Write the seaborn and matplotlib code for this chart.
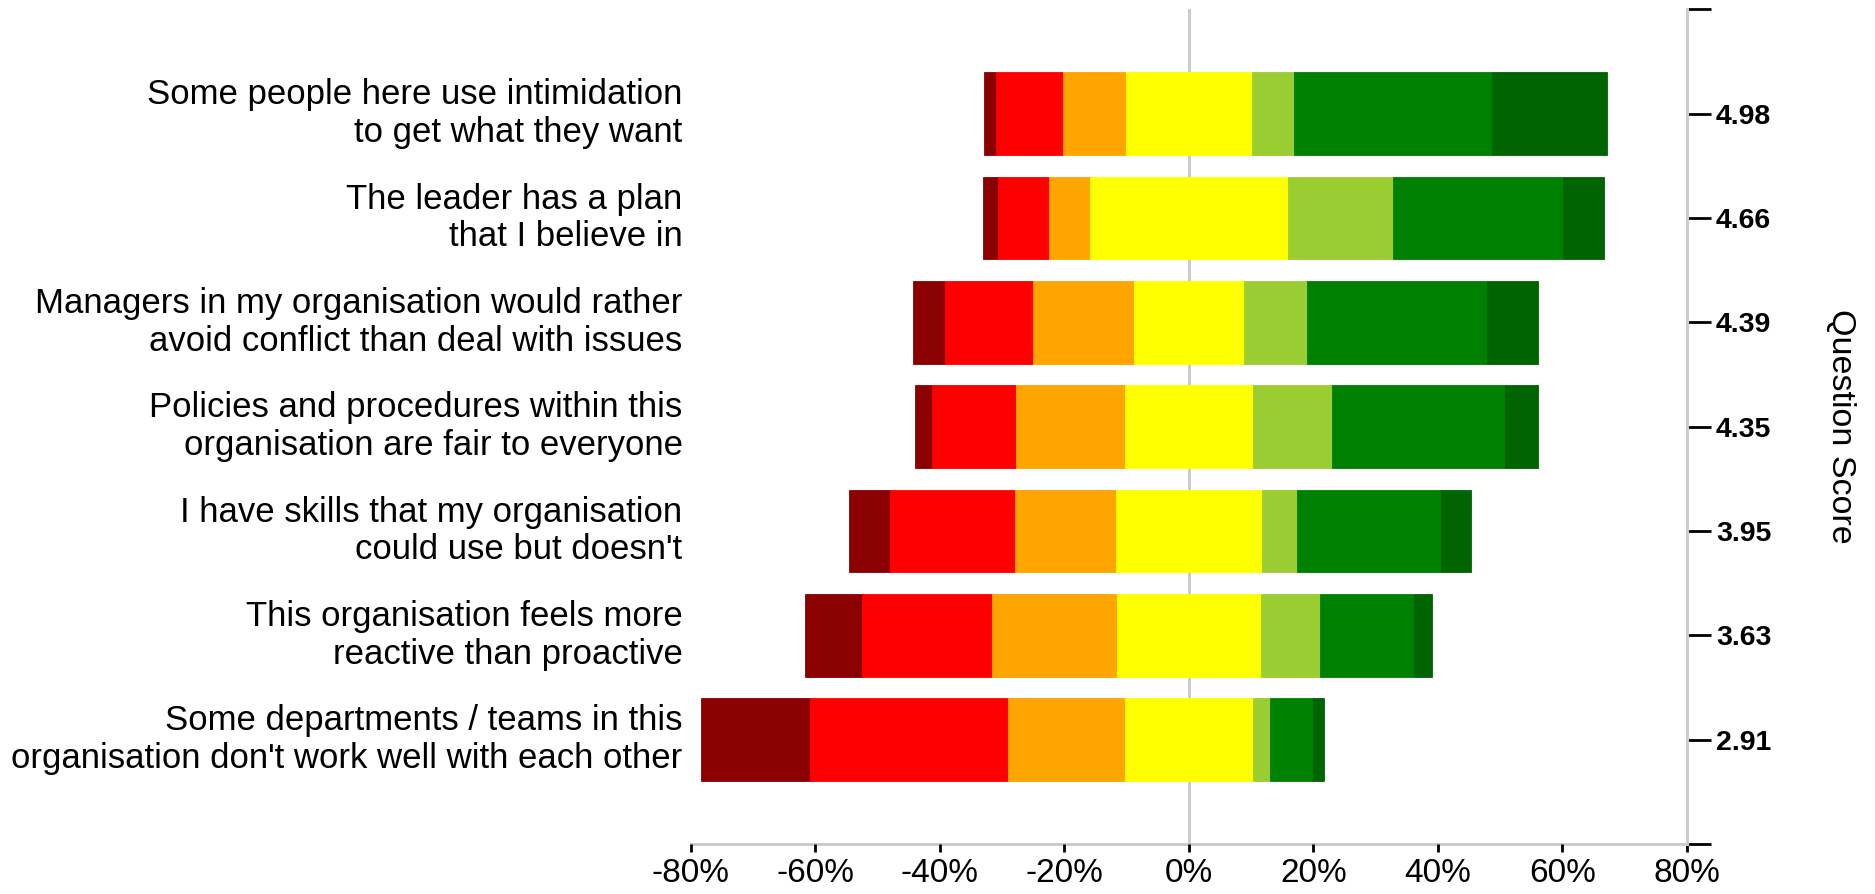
import matplotlib
matplotlib.use("Agg")
import matplotlib.pyplot as plt
import seaborn as sns
import pandas as pd
import numpy as np

# Survey questions (top to bottom)
questions = [
    "Some people here use intimidation\nto get what they want",
    "The leader has a plan\nthat I believe in",
    "Managers in my organisation would rather\navoid conflict than deal with issues",
    "Policies and procedures within this\norganisation are fair to everyone",
    "I have skills that my organisation\ncould use but doesn't",
    "This organisation feels more\nreactive than proactive",
    "Some departments / teams in this\norganisation don't work well with each other",
]
scores = ["4.98", "4.66", "4.39", "4.35", "3.95", "3.63", "2.91"]

# Response shares (%) per answer level, from strongly negative to strongly positive
strongly_disagree = [1.9, 2.4, 5.1, 2.7, 6.6, 9.1, 17.4]
disagree = [10.8, 8.2, 14.2, 13.5, 20.1, 20.9, 31.9]
slightly_disagree = [10.1, 6.6, 16.2, 17.4, 16.2, 20.1, 18.7]
neutral = [20.2, 31.9, 17.7, 20.7, 23.5, 23.0, 20.7]
slightly_agree = [6.7, 16.8, 10.1, 12.7, 5.6, 9.6, 2.6]
agree = [31.9, 27.3, 28.9, 27.8, 23.2, 15.1, 7.0]
strongly_agree = [18.4, 6.6, 8.3, 5.3, 4.8, 2.8, 1.7]

tick_values = [-80, -60, -40, -20, 0, 20, 40, 60, 80]

levels = ["strongly_disagree", "disagree", "slightly_disagree", "neutral",
          "slightly_agree", "agree", "strongly_agree"]
colors = {
    "strongly_disagree": "#8B0000",
    "disagree": "#FF0000",
    "slightly_disagree": "#FFA500",
    "neutral": "#FFFF00",
    "slightly_agree": "#9ACD32",
    "agree": "#008000",
    "strongly_agree": "#006400",
}

df = pd.DataFrame({
    "question": questions,
    "strongly_disagree": strongly_disagree,
    "disagree": disagree,
    "slightly_disagree": slightly_disagree,
    "neutral": neutral,
    "slightly_agree": slightly_agree,
    "agree": agree,
    "strongly_agree": strongly_agree,
})

# Diverging layout: the neutral share is centred on zero, so each bar starts
# at minus (all negative shares + half the neutral share).
start = -(df["strongly_disagree"] + df["disagree"] + df["slightly_disagree"] + df["neutral"] / 2)
lefts = df[levels].cumsum(axis=1).shift(axis=1, fill_value=0).add(start, axis=0)

sns.set_theme(style="white")
plt.rcParams["font.family"] = ["Liberation Sans", "DejaVu Sans"]

fig = plt.figure(figsize=(18.75, 8.94), dpi=100)
ax = fig.add_axes([0.3685, 0.056, 0.5312, 0.9335])

ax.axvline(0, color="#cccccc", lw=2.2, zorder=1)

ypos = np.arange(len(questions))
for name in levels:
    ax.barh(ypos, df[name], left=lefts[name], height=0.79, color=colors[name],
            edgecolor=colors[name], linewidth=0.6, zorder=3)

ax.set_xlim(-80, 80)
ax.set_ylim(7, -1)
ax.set_xticks(tick_values)
ax.set_xticklabels([f"{v}%" for v in tick_values])
ax.set_yticks(ypos)
ax.set_yticklabels(questions)

for side in ["top", "left", "right"]:
    ax.spines[side].set_visible(False)
ax.spines["bottom"].set_color("#cccccc")
ax.spines["bottom"].set_linewidth(2.2)
ax.spines["bottom"].set_zorder(0.5)

# Right-hand axis with the mean score of each question
ax2 = ax.twinx()
ax2.set_ylim(ax.get_ylim())
ax2.set_yticks([-1] + list(ypos) + [7])
ax2.set_yticklabels([""] + scores + [""], fontweight="bold")
ax2.tick_params(axis="y", right=True, length=17, width=2, color="black",
                labelsize=20.5, pad=4, labelcolor="black")
for side in ["top", "left", "bottom"]:
    ax2.spines[side].set_visible(False)
ax2.spines["right"].set_color("#cccccc")
ax2.spines["right"].set_linewidth(2.2)
ax2.grid(False)
ax.grid(False)

ax.tick_params(axis="x", bottom=True, length=6, width=2, color="black",
               labelsize=24, pad=4, labelcolor="black")
ax.tick_params(axis="y", left=False, right=False, length=0, labelsize=25,
               pad=6, labelcolor="black")
for lbl in ax.get_yticklabels():
    lbl.set_linespacing(1.18)
    lbl.set_horizontalalignment("right")
    lbl.set_verticalalignment("center")

fig.text(1840 / 1875, 0.5235, "Question Score", rotation=-90, fontsize=24.5,
         ha="center", va="center", color="black")

fig.savefig("out.png", dpi=100)
